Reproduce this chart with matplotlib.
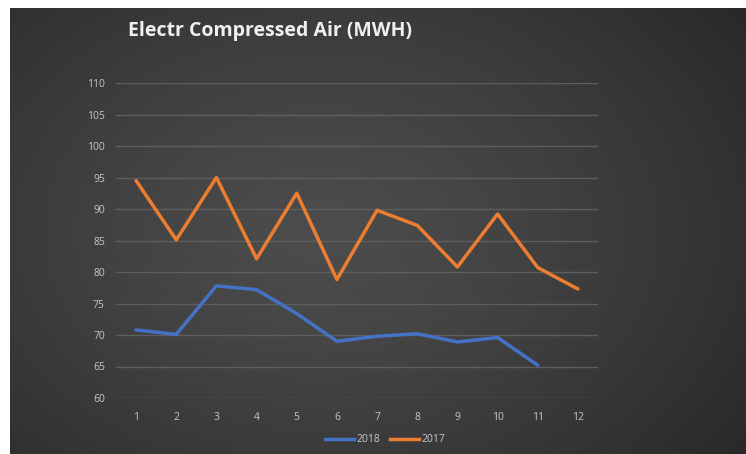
import numpy as np
import matplotlib
matplotlib.use("Agg")
import matplotlib.pyplot as plt
from matplotlib.lines import Line2D

months = list(range(1, 13))
values_2018 = [70.8, 70.1, 77.8, 77.2, 73.4, 69.0, 69.8, 70.2, 68.9, 69.6, 65.2]
values_2017 = [94.5, 85.1, 95.0, 82.1, 92.5, 78.8, 89.8, 87.4, 80.8, 89.2, 80.7, 77.3]
yticks = [60, 65, 70, 75, 80, 85, 90, 95, 100, 105, 110]
title = "Electr Compressed Air (MWH)"

W, H = 746, 454
fig = plt.figure(figsize=(W / 100, H / 100), dpi=100)
fig.patch.set_facecolor("white")

# background panel with radial gradient
bg = fig.add_axes([10 / W, 0, 1 - 10 / W, 1 - 8 / H])
bg.set_axis_off()
nx, ny = 400, 250
xx, yy = np.meshgrid(np.linspace(0, 1, nx), np.linspace(0, 1, ny))
cx, cy = 0.42, 0.5
r = np.sqrt(((xx - cx) / 0.75) ** 2 + ((yy - cy) / 0.9) ** 2)
r = np.clip(r, 0, 1)
inner, outer = 0.30, 0.15
val = inner - (inner - outer) * r ** 1.3
img = np.dstack([val, val, val])
bg.imshow(img, extent=[0, 1, 0, 1], aspect="auto", origin="lower")
bg.set_xlim(0, 1)
bg.set_ylim(0, 1)

ax = fig.add_axes([116 / W, 1 - 398 / H, (598 - 116) / W, (398 - 83) / H])
ax.set_facecolor("none")
ax.plot(months[:len(values_2018)], values_2018, color="#4472C4", lw=2.5,
        solid_joinstyle="round", solid_capstyle="round", label="2018")
ax.plot(months, values_2017, color="#ED7D31", lw=2.5,
        solid_joinstyle="round", solid_capstyle="round", label="2017")
ax.set_xlim(0.5, 12.5)
ax.set_ylim(60, 110)
ax.set_yticks(yticks)
ax.set_xticks(months)
ax.grid(axis="y", color="#5e5e5e", lw=1)
ax.set_axisbelow(True)
for s in ax.spines.values():
    s.set_visible(False)
ax.tick_params(length=0, colors="#c8c8c8", labelsize=7.5, pad=8)
ax.tick_params(axis="x", pad=10)
for lab in ax.get_xticklabels() + ax.get_yticklabels():
    lab.set_fontfamily("Open Sans")

t = fig.text(128 / W, 1 - 31 / H, title, color="#f0f0f0", fontsize=14,
             fontweight="bold", fontfamily="Open Sans", va="center", ha="left")

handles = [Line2D([], [], color="#4472C4", lw=2.5), Line2D([], [], color="#ED7D31", lw=2.5)]
leg = fig.legend(handles, ["2018", "2017"], loc="center", bbox_to_anchor=(385 / W, 1 - 440 / H),
                 ncol=2, frameon=False, handlelength=2.8, handletextpad=0.2, columnspacing=1.0,
                 prop={"family": "Open Sans", "size": 7.5})
for tx in leg.get_texts():
    tx.set_color("#c8c8c8")

fig.savefig("out.png", dpi=100)
